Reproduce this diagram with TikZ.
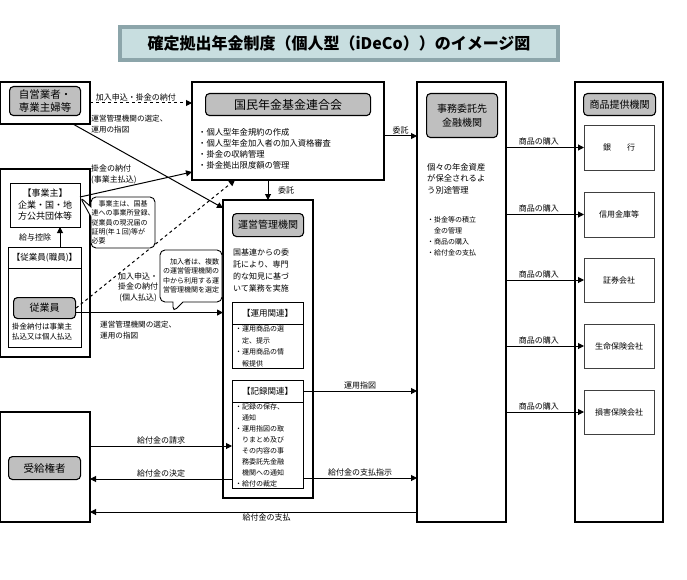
\documentclass[tikz,border=0pt]{standalone}
\usepackage{fontspec}
\setmainfont{Noto Sans CJK JP}
\usetikzlibrary{arrows.meta,shapes.callouts,calc}
\definecolor{titlefill}{RGB}{200,222,224}
\definecolor{titleedge}{RGB}{140,165,170}

\begin{document}
\begin{tikzpicture}[x=1pt, y=-1pt,
  frame/.style  = {draw, line width=1.2pt, inner sep=0pt, outer sep=0pt,
                   anchor=north west},
  badge/.style  = {draw, line width=1.1pt, fill=gray!50, rounded corners=4pt,
                   inner sep=0pt, anchor=north west, align=center,
                   font=\fontsize{10}{13}\selectfont},
  subbox/.style = {draw, line width=0.8pt, inner sep=0pt, outer sep=0pt,
                   anchor=north west, align=center},
  note/.style   = {inner sep=0pt, anchor=north west, align=left,
                   font=\fontsize{7}{11}\selectfont},
  lbl/.style    = {inner sep=1.5pt, font=\fontsize{8}{11}\selectfont},
  arr/.style    = {line width=1pt, -{Triangle[length=6pt,width=6pt]}},
  bubble/.style = {rectangle callout, draw, line width=0.9pt, fill=white,
                   rounded corners=5pt, inner sep=0.5pt, align=left,
                   callout pointer width=10pt,
                   font=\fontsize{7}{9.4}\selectfont},
  ]
  \useasboundingbox (0,0) rectangle (687,580);

  \node[draw=titleedge, line width=4pt, fill=titlefill, minimum width=438pt,
    minimum height=33pt, font=\fontsize{16}{16}\selectfont\bfseries]
    (Title) at (339,43.5) {確定拠出年金制度（個人型（iDeCo））のイメージ図};

  % left column
  \node[frame, minimum width=90pt, minimum height=42pt] (Jiei) at (0,82) {};
  \node[badge, minimum width=71pt, minimum height=29pt,
    font=\fontsize{10.5}{13}\selectfont] (JieiB) at (9,86) {自営業者・\\専業主婦等};

  \node[frame, minimum width=90pt, minimum height=188pt] (Jigyo) at (0,169) {};
  \node[subbox, minimum width=70pt, minimum height=44pt,
    font=\fontsize{9}{11.5}\selectfont] (JigyoIn) at (10,183)
    {【事業主】\\企業・国・地\\方公共団体等};
  \node[subbox, minimum width=73pt, minimum height=100pt] (Juin) at (8,247) {};
  \node[inner sep=0pt, font=\fontsize{8.5}{10}\selectfont] (JuinH) at (44.5,258)
    {【従業員(職員)】};
  \draw[line width=0.8pt] (Juin.west |- 0,268) -- (Juin.east |- 0,268);
  \node[badge, minimum width=62pt, minimum height=21pt] (JuinB) at (13,297) {従業員};
  \node[note, font=\fontsize{7.5}{10}\selectfont] (JuinNote) at (12,322.5)
    {掛金納付は事業主\\払込又は個人払込};
  \draw[arr] (Juin.north -| 60,0) -- node[lbl, left=7pt] (lKyuyo) {給与控除}
    (JigyoIn.south -| 60,0);

  \node[frame, minimum width=90pt, minimum height=110pt] (Jukyu) at (0,412) {};
  \node[badge, minimum width=72pt, minimum height=23pt,
    font=\fontsize{10.5}{13}\selectfont] (JukyuB) at (8,456) {受給権者};

  % kokuren and unei
  \node[frame, minimum width=192pt, minimum height=98pt] (Kokuren) at (192,82) {};
  \node[badge, minimum width=165pt, minimum height=22pt,
    font=\fontsize{12}{14}\selectfont] (KokurenB) at (205,93) {国民年金基金連合会};
  \node[note, font=\fontsize{8.3}{11}\selectfont] (KokurenNote) at (198,128.5)
    {・個人型年金規約の作成\\・個人型年金加入者の加入資格審査\\・掛金の収納管理\\・掛金拠出限度額の管理};

  \node[frame, minimum width=90pt, minimum height=298pt] (Unei) at (223,200) {};
  \node[badge, minimum width=71pt, minimum height=23pt] (UneiB) at (232,213) {運営管理機関};
  \node[note, font=\fontsize{8}{11.7}\selectfont] (UneiNote) at (233,249)
    {国基連からの委\\託により、専門\\的な知見に基づ\\いて業務を実施};
  \node[subbox, minimum width=71pt, minimum height=66pt] (Unyo) at (232,302) {};
  \node[inner sep=0pt, font=\fontsize{8.5}{10}\selectfont] (UnyoH) at (267.5,313.5)
    {【運用関連】};
  \draw[line width=0.8pt] (Unyo.west |- 0,324) -- (Unyo.east |- 0,324);
  \node[note, font=\fontsize{7}{11.5}\selectfont] (UnyoNote) at (235,325.5)
    {・運用商品の選\\　定、提示\\・運用商品の情\\　報提供};
  \node[subbox, minimum width=71pt, minimum height=108pt] (Kiroku) at (232,380) {};
  \node[inner sep=0pt, font=\fontsize{8.5}{10}\selectfont] (KirokuH) at (267.5,391)
    {【記録関連】};
  \draw[line width=0.8pt] (Kiroku.west |- 0,402) -- (Kiroku.east |- 0,402);
  \node[note] (KirokuNote) at (235,403.5)
    {・記録の保存、\\　通知\\・運用指図の取\\　りまとめ及び\\　その内容の事\\　務委託先金融\\　機関への通知\\・給付の裁定};

  % jimu and shohin
  \node[frame, minimum width=89pt, minimum height=440pt] (Jimu) at (417,82) {};
  \node[badge, minimum width=71pt, minimum height=44pt,
    font=\fontsize{10}{13.5}\selectfont] (JimuB) at (426,93) {事務委託先\\金融機関};
  \node[note, font=\fontsize{8.3}{11.7}\selectfont] (JimuNote) at (427,163)
    {個々の年金資産\\が保全されるよ\\う別途管理};
  \node[note] (JimuList) at (427,216.5)
    {・掛金等の積立\\　金の管理\\・商品の購入\\・給付金の支払};

  \node[frame, minimum width=88pt, minimum height=440pt] (Shohin) at (575,82) {};
  \node[badge, minimum width=72pt, minimum height=22pt] (ShohinB) at (583,93) {商品提供機関};
  \node[subbox, draw=black!75, minimum width=70pt, minimum height=45pt,
    font=\fontsize{8}{10}\selectfont] (Ginko) at (584,125) {銀　　行};
  \node[subbox, draw=black!75, minimum width=70pt, minimum height=45pt,
    font=\fontsize{8}{10}\selectfont] (Shinkin) at (584,192) {信用金庫等};
  \node[subbox, draw=black!75, minimum width=70pt, minimum height=44pt,
    font=\fontsize{8}{10}\selectfont] (Shoken) at (584,258) {証券会社};
  \node[subbox, draw=black!75, minimum width=70pt, minimum height=44pt,
    font=\fontsize{8}{10}\selectfont] (Seimei) at (584,324) {生命保険会社};
  \node[subbox, draw=black!75, minimum width=70pt, minimum height=44pt,
    font=\fontsize{8}{10}\selectfont] (Songai) at (584,390) {損害保険会社};

  % connectors
  \draw[arr, dashed] (Jiei.east) -- node[lbl, above, pos=0.45] (lKanyuA)
    {加入申込・掛金の納付} (Jiei.east -| Kokuren.west);
  \draw[arr] ($(Jiei.south west)!0.81!(Jiei.south east)$) --
    node[lbl, pos=0.12, anchor=south west, align=left, inner sep=0pt,
    font=\fontsize{7.6}{11}\selectfont] (lSenteiA)
    {運営管理機関の選定、\\運用の指図} ([yshift=-8pt]Unei.north west);
  \draw[arr] ([yshift=8pt]JigyoIn.east) -- ([yshift=8pt]Kokuren.south west);
  \node[lbl, anchor=north west, align=left, inner sep=0pt] (lKakekinA) at (91,164.5)
    {掛金の納付\\(事業主払込)};
  \draw[arr, dashed] (JuinB.east) -- ([xshift=43pt]Kokuren.south west);
  \node[lbl, align=center, font=\fontsize{8}{10.5}\selectfont] (lKanyuB) at (138,287)
    {加入申込・\\掛金の納付\\(個人払込)};
  \draw[arr] ([yshift=-4.5pt]JuinB.east) -- ([yshift=-4.5pt]JuinB.east -| Unei.west);
  \node[lbl, anchor=north west, align=left, inner sep=0pt,
    font=\fontsize{7.6}{11}\selectfont] (lSenteiB) at (100,321)
    {運営管理機関の選定、\\運用の指図};

  \draw[arr] (Kokuren.east |- 0,136) -- node[lbl, above] (lItakuA) {委託}
    (Jimu.west |- 0,136);
  \draw[arr] (Unei.north |- Kokuren.south) -- node[lbl, right=8pt] (lItakuB) {委託}
    (Unei.north);
  \draw[arr] (KirokuH.east -| Kiroku.east) -- node[lbl, above] (lShizu) {運用指図}
    (KirokuH.east -| Jimu.west);
  \draw[arr] (Kiroku.east |- 0,478) -- node[lbl, above] (lShiji) {給付金の支払指示}
    (Jimu.west |- 0,478);

  \draw[arr] (Jukyu.east |- 0,446) -- node[lbl, above] (lSeikyu) {給付金の請求}
    (Kiroku.west |- 0,446);
  \draw[arr] (Kiroku.west |- 0,479) -- node[lbl, above] (lKettei) {給付金の決定}
    (Jukyu.east |- 0,479);
  \draw[arr] (Jimu.west |- 0,512) -- node[lbl, below, pos=0.46] (lShiharai)
    {給付金の支払} (Jukyu.east |- 0,512);

  \draw[arr] (Ginko.west -| Jimu.east) -- node[lbl, above, pos=0.42] (lKonyuA)
    {商品の購入} (Ginko.west);
  \draw[arr] (Shinkin.west -| Jimu.east) -- node[lbl, above, pos=0.42] (lKonyuB)
    {商品の購入} (Shinkin.west);
  \draw[arr] (Shoken.west -| Jimu.east) -- node[lbl, above, pos=0.42] (lKonyuC)
    {商品の購入} (Shoken.west);
  \draw[arr] (Seimei.west -| Jimu.east) -- node[lbl, above, pos=0.42] (lKonyuD)
    {商品の購入} (Seimei.west);
  \draw[arr] (Songai.west -| Jimu.east) -- node[lbl, above, pos=0.42] (lKonyuE)
    {商品の購入} (Songai.west);

  % callouts
  \node[bubble, minimum width=64pt, minimum height=51pt,
    callout absolute pointer={([yshift=8pt]JigyoIn.east)}] (BubbleA) at (123,222.5)
    {\hspace*{1em}事業主は、国基\\連への事業所登録、\\従業員の現況届の\\証明(年１回)等が\\必要};
  \node[bubble, minimum width=62pt, minimum height=52pt,
    callout absolute pointer={(173,312)}] (BubbleB) at (191,276)
    {\hspace*{1em}加入者は、複数\\の運営管理機関の\\中から利用する運\\営管理機関を選定};
\end{tikzpicture}
\end{document}
